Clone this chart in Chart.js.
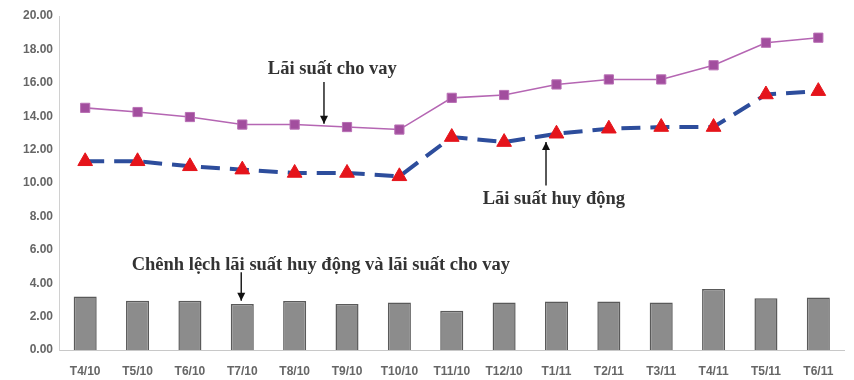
<!DOCTYPE html>
<html><head><meta charset="utf-8">
<script src="https://cdn.jsdelivr.net/npm/chart.js@4/dist/chart.umd.min.js"></script>
<style>html,body{margin:0;padding:0;background:#fff}#wrap{width:854px;height:380px}</style>
</head><body><div id="wrap"><canvas id="c" width="854" height="380"></canvas></div>
<script>
const categories = ["T4/10","T5/10","T6/10","T7/10","T8/10","T9/10","T10/10","T11/10","T12/10","T1/11","T2/11","T3/11","T4/11","T5/11","T6/11"];
const loanRate = [14.5,14.25,13.95,13.5,13.5,13.35,13.2,15.1,15.27,15.9,16.2,16.2,17.05,18.4,18.7];
const depositRate = [11.3,11.3,11.0,10.8,10.6,10.6,10.4,12.75,12.45,12.95,13.25,13.35,13.35,15.3,15.5];
const spread = [3.2,2.95,2.95,2.75,2.93,2.75,2.85,2.35,2.85,2.9,2.9,2.85,3.65,3.1,3.15];
const yTicks = [0,2,4,6,8,10,12,14,16,18,20];
const annotations = [
  {text:"Lãi suất cho vay", tx:4.72, ty:16.8, ax:4.56, y1:16.05, y2:13.55},
  {text:"Lãi suất huy động", tx:8.95, ty:9.0, ax:8.8, y1:9.85, y2:12.45},
  {text:"Chênh lệch lãi suất huy động và lãi suất cho vay", tx:4.5, ty:5.1, ax:2.98, y1:4.65, y2:2.95}
];

const annotPlugin = {
  id:'annot',
  afterDatasetsDraw(chart){
    const ctx = chart.ctx, xs = chart.scales.x, ys = chart.scales.y;
    const idxPx = i => { const a = xs.getPixelForValue(Math.floor(i)), b = xs.getPixelForValue(Math.floor(i)+1); return a + (b-a)*(i-Math.floor(i)); };
    ctx.save();
    annotations.forEach(a=>{
      ctx.font = 'bold 18.5px "Liberation Serif", "DejaVu Serif", serif';
      ctx.fillStyle = '#333';
      ctx.textAlign = 'center'; ctx.textBaseline = 'middle';
      ctx.fillText(a.text, idxPx(a.tx), ys.getPixelForValue(a.ty));
      const x = idxPx(a.ax), p1 = ys.getPixelForValue(a.y1), p2 = ys.getPixelForValue(a.y2);
      ctx.strokeStyle = '#111'; ctx.lineWidth = 1.4;
      ctx.beginPath(); ctx.moveTo(x,p1); ctx.lineTo(x,p2); ctx.stroke();
      const dir = p2>p1 ? 1 : -1;
      ctx.fillStyle = '#111';
      ctx.beginPath(); ctx.moveTo(x,p2); ctx.lineTo(x-4,p2-dir*8); ctx.lineTo(x+4,p2-dir*8); ctx.closePath(); ctx.fill();
    });
    ctx.restore();
  }
};

new Chart(document.getElementById('c'), {
  type:'bar',
  data:{
    labels: categories,
    datasets:[
      {type:'line', label:'Lãi suất cho vay', data:loanRate, borderColor:'#b566b3', borderWidth:1.6,
       pointStyle:'rect', pointRadius:6.5, pointBackgroundColor:'#a24e9e', pointBorderColor:'#b970b5', pointBorderWidth:1,
       tension:0, order:1},
      {type:'line', label:'Lãi suất huy động', data:depositRate, borderColor:'#2d4d9c', borderWidth:4, borderDash:[19,10],
       pointStyle:'triangle', pointRadius:8.5, pointBackgroundColor:'#e5141b', pointBorderColor:'#e5141b', pointBorderWidth:1,
       tension:0, order:0},
      {type:'bar', label:'Chênh lệch', data:spread, backgroundColor:'#8c8c8c', borderColor:'#5a5a5a', borderWidth:1.5,
       barPercentage:0.44, categoryPercentage:1, order:2}
    ]
  },
  options:{
    responsive:false, animation:false, devicePixelRatio:1,
    layout:{padding:{top:16,right:6,left:0,bottom:0}},
    plugins:{legend:{display:false}, tooltip:{enabled:false}},
    scales:{
      x:{offset:true, grid:{display:false}, border:{display:true,color:'#c8c8c8',width:1},
         ticks:{color:'#666', font:{family:'"Liberation Sans", Arial, sans-serif', size:12, weight:'bold'}, padding:6, maxRotation:0, autoSkip:false},
         afterFit(s){ s.height = 30; }},
      y:{min:0, max:20, grid:{display:false}, border:{display:true,color:'#d0d0d0',width:1},
         afterBuildTicks(s){ s.ticks = yTicks.map(v=>({value:v})); },
         ticks:{color:'#666', font:{family:'"Liberation Sans", Arial, sans-serif', size:12, weight:'bold'}, padding:-2,
                callback:v=>Number(v).toFixed(2)},
         afterFit(s){ s.width = 59; }}
    }
  },
  plugins:[annotPlugin]
});
</script></body></html>
